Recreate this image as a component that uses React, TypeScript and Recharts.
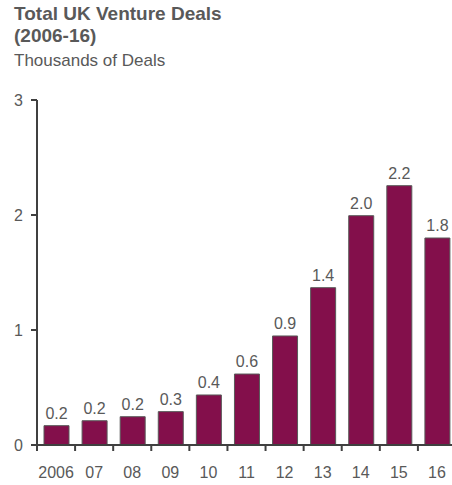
import React from "react";
import { BarChart, Bar, XAxis, YAxis, LabelList } from "recharts";

const years = ["2006", "07", "08", "09", "10", "11", "12", "13", "14", "15", "16"];
const deals = [0.168, 0.211, 0.246, 0.29, 0.435, 0.617, 0.948, 1.368, 1.994, 2.255, 1.8];
const dealLabels = ["0.2", "0.2", "0.2", "0.3", "0.4", "0.6", "0.9", "1.4", "2.0", "2.2", "1.8"];
const yTicks = [0, 1, 2, 3];

const data = years.map((year, i) => ({ year, deals: deals[i], label: dealLabels[i] }));

const CHART_W = 456;
const CHART_H = 485;
const LEFT = 37;
const TOP = 100;
const BOTTOM = 445;
const BAND = (CHART_W - LEFT) / years.length;
const GREY = "#595959";
const FONT = "'Liberation Sans', Arial, sans-serif";

const YearTick = (props: any) => {
  const { x, payload } = props;
  const left = x - BAND / 2;
  return (
    <g>
      <line x1={left} y1={BOTTOM} x2={left} y2={BOTTOM + 6} stroke="#404040" strokeWidth={2} />
      <text x={x} y={BOTTOM + 33} textAnchor="middle" fill={GREY} fontSize={16} fontFamily={FONT}>
        {payload.value}
      </text>
    </g>
  );
};

const App: React.FC = () => {
  return (
    <div
      style={{
        position: "absolute",
        left: 0,
        top: 0,
        width: 452,
        height: 485,
        overflow: "hidden",
        background: "#fff",
        fontFamily: FONT,
        color: GREY,
      }}
    >
      <div style={{ position: "absolute", left: 14, top: 3, fontSize: 19, fontWeight: "bold", lineHeight: "22px" }}>
        Total UK Venture Deals
        <br />
        (2006-16)
      </div>
      <div style={{ position: "absolute", left: 14, top: 51, fontSize: 17, lineHeight: "20px" }}>
        Thousands of Deals
      </div>
      <div style={{ position: "absolute", left: 0, top: 0 }}>
        <BarChart
          width={CHART_W}
          height={CHART_H}
          data={data}
          margin={{ top: TOP, right: 0, bottom: 0, left: 0 }}
        >
          <XAxis
            dataKey="year"
            height={CHART_H - BOTTOM}
            axisLine={{ stroke: "#404040", strokeWidth: 2 }}
            tickLine={false}
            tick={<YearTick />}
            interval={0}
          />
          <YAxis
            width={LEFT}
            domain={[0, 3]}
            ticks={yTicks}
            interval={0}
            axisLine={{ stroke: "#404040", strokeWidth: 2 }}
            tickLine={{ stroke: "#404040", strokeWidth: 2 }}
            tickSize={6}
            tickMargin={8}
            tick={{ fill: GREY, fontSize: 16, fontFamily: FONT }}
          />
          <Bar dataKey="deals" fill="#830F4B" stroke={GREY} strokeWidth={1} barSize={25} isAnimationActive={false}>
            <LabelList dataKey="label" position="top" offset={7} fill={GREY} fontSize={16} fontFamily={FONT} />
          </Bar>
        </BarChart>
      </div>
    </div>
  );
};

export default App;
